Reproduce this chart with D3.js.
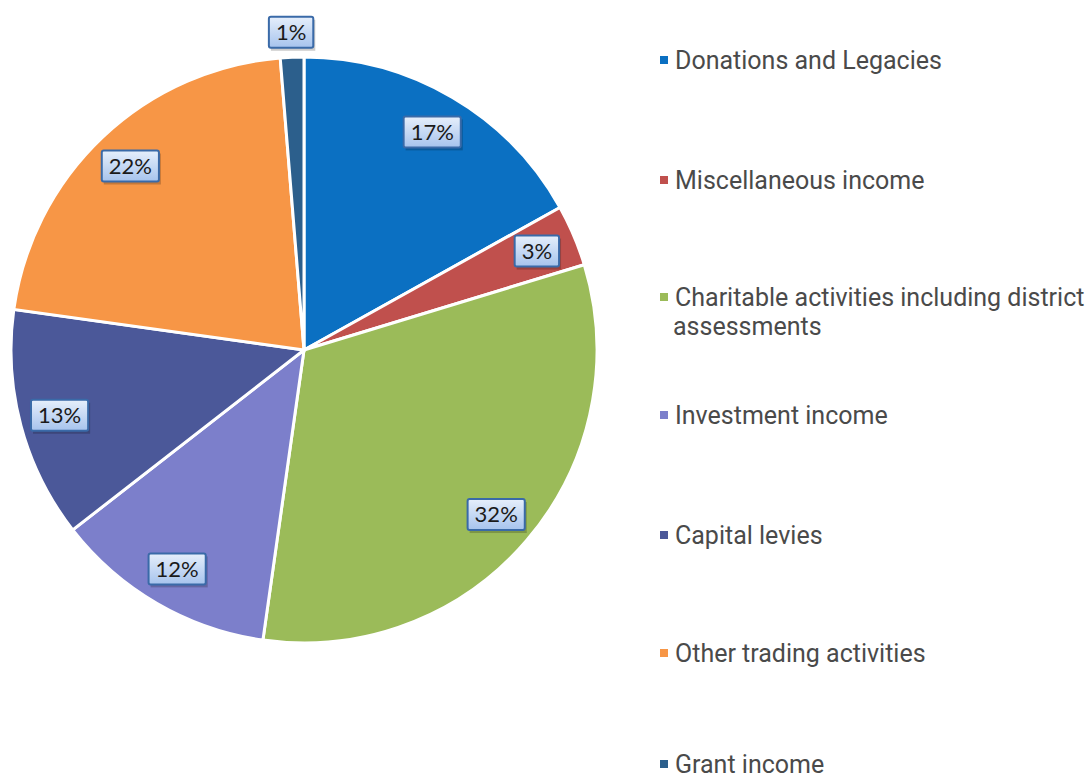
<!DOCTYPE html>
<html lang="en">
<head>
  <meta charset="utf-8">
  <title>Income breakdown</title>
  <script src="https://d3js.org/d3.v7.min.js"></script>
  <style>
    body { margin: 0; background: #fff; }
    .legend-text { font-family: Roboto, "Liberation Sans", sans-serif; font-size: 25px; fill: #4a4a4a; }
    .pct-text { font-family: Lato, "Liberation Sans", sans-serif; font-size: 22px; fill: #1a1a1a; }
  </style>
</head>
<body>
<script>
  // data (share of income, %)
  const categories = ["Donations and Legacies", "Miscellaneous income", "Charitable activities including district assessments",
    "Investment income", "Capital levies", "Other trading activities", "Grant income"];
  const values = [17.0, 3.4, 32.1, 12.3, 12.8, 21.6, 1.3];
  const pctLabels = ["17%", "3%", "32%", "12%", "13%", "22%", "1%"];
  const colors = ["#0b70c2", "#c0504d", "#9bbb59", "#7c7fcb", "#4b5899", "#f79646", "#2c5f8c"];
  // legend text lines (second entry wraps)
  const legendLines = [["Donations and Legacies"], ["Miscellaneous income"], ["Charitable activities including district", "assessments"],
    ["Investment income"], ["Capital levies"], ["Other trading activities"], ["Grant income"]];

  const width = 1090, height = 780;
  const cx = 304, cy = 350, radius = 293;

  const svg = d3.select("body").append("svg")
    .attr("width", width)
    .attr("height", height);

  const defs = svg.append("defs");
  const grad = defs.append("linearGradient").attr("id", "boxGrad")
    .attr("x1", 0).attr("y1", 0).attr("x2", 0).attr("y2", 1);
  grad.append("stop").attr("offset", "0%").attr("stop-color", "#e6effb");
  grad.append("stop").attr("offset", "100%").attr("stop-color", "#a6c3ed");

  const data = categories.map((c, i) => ({ name: c, value: values[i], label: pctLabels[i], color: colors[i] }));

  const pie = d3.pie().sort(null).value(d => d.value);
  const arc = d3.arc().innerRadius(0).outerRadius(radius);
  const labelArc = d3.arc().innerRadius(253).outerRadius(253);
  const outsideArc = d3.arc().innerRadius(318).outerRadius(318);

  const g = svg.append("g").attr("transform", `translate(${cx},${cy})`);
  const arcs = pie(data);

  g.selectAll("path.slice")
    .data(arcs)
    .enter().append("path")
    .attr("class", "slice")
    .attr("d", arc)
    .attr("fill", d => d.data.color)
    .attr("stroke", "#fff")
    .attr("stroke-width", 3);

  // percent labels in blue boxes
  const lab = g.selectAll("g.pct")
    .data(arcs)
    .enter().append("g")
    .attr("class", "pct")
    .attr("transform", d => {
      const p = (d.endAngle - d.startAngle) < 0.2 ? outsideArc.centroid(d) : labelArc.centroid(d);
      return `translate(${p[0]},${p[1]})`;
    });

  lab.append("rect").attr("class", "shadow");
  lab.append("rect").attr("class", "box");
  lab.append("text")
    .attr("class", "pct-text")
    .attr("text-anchor", "middle")
    .attr("dy", "0.36em")
    .text(d => d.data.label);

  lab.each(function () {
    const t = d3.select(this).select("text").node();
    const w = t.getComputedTextLength() + 14, h = 31;
    d3.select(this).select("rect.shadow")
      .attr("x", -w / 2 + 2).attr("y", -h / 2 + 3).attr("width", w).attr("height", h)
      .attr("fill", "#000").attr("opacity", 0.2);
    d3.select(this).select("rect.box")
      .attr("x", -w / 2).attr("y", -h / 2).attr("width", w).attr("height", h)
      .attr("rx", 2)
      .attr("fill", "url(#boxGrad)")
      .attr("stroke", "#3a6aa8").attr("stroke-width", 2);
  });

  // legend
  const legendY = [60, 180, 297, 415, 535, 653, 764];
  const legend = svg.selectAll("g.leg")
    .data(data)
    .enter().append("g")
    .attr("class", "leg")
    .attr("transform", (d, i) => `translate(660,${legendY[i]})`);

  legend.append("rect")
    .attr("x", 0).attr("y", -4)
    .attr("width", 8).attr("height", 8)
    .attr("fill", d => d.color);

  legend.append("text")
    .attr("class", "legend-text")
    .attr("x", 15)
    .attr("dy", "0.35em")
    .selectAll("tspan")
    .data((d, i) => legendLines[i])
    .enter().append("tspan")
    .attr("x", (d, j) => j === 0 ? 15 : 13)
    .attr("dy", (d, j) => j === 0 ? "0.35em" : "1.15em")
    .text(d => d);
</script>
</body>
</html>
